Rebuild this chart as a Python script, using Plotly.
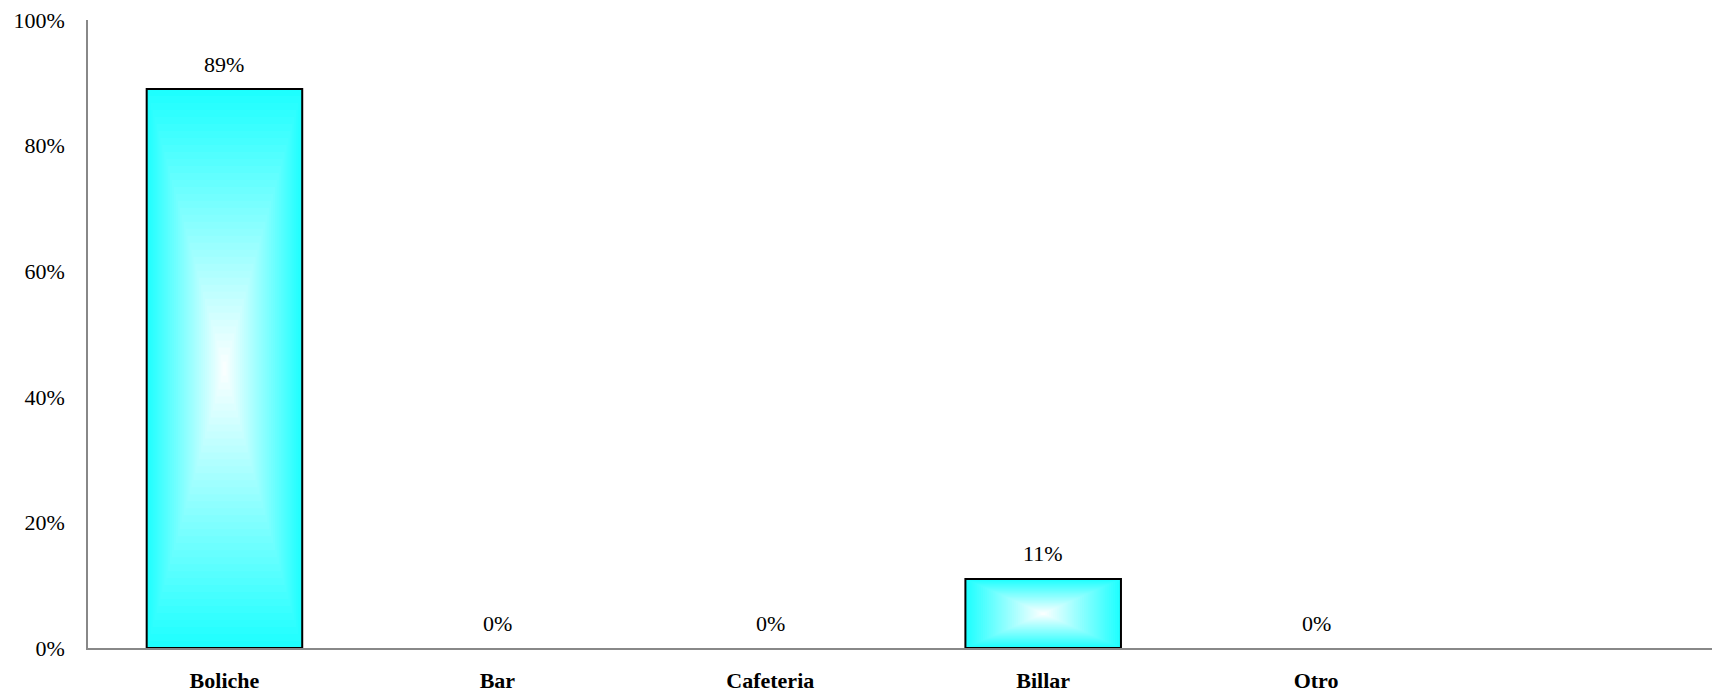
import plotly.graph_objects as go

categories = ["Boliche", "Bar", "Cafeteria", "Billar", "Otro"]
values = [0.89, 0.0, 0.0, 0.11, 0.0]
labels = ["89%", "0%", "0%", "11%", "0%"]

BAR_W = 0.57
N = 40
fig = go.Figure()

edge = (30, 255, 255)
center = (255, 255, 255)
for k in range(N):
    t = k / N
    c = tuple(int(round(edge[i] * (1 - t) + center[i] * t)) for i in range(3))
    fig.add_trace(go.Bar(
        x=categories,
        y=[v * (1 - t) for v in values],
        base=[v * t / 2 for v in values],
        width=BAR_W * (1 - t),
        marker=dict(color=f"rgb{c}", line=dict(width=0)),
        hoverinfo="skip",
        showlegend=False,
    ))

fig.add_trace(go.Bar(
    x=categories,
    y=values,
    width=BAR_W,
    marker=dict(color="rgba(0,0,0,0)",
                line=dict(color="black", width=[2 if v > 0 else 0 for v in values])),
    showlegend=False,
))

for cat, v, lab in zip(categories, values, labels):
    fig.add_annotation(
        x=cat, y=v, text=lab, showarrow=False,
        yanchor="middle", yshift=25,
        font=dict(family="Liberation Serif", size=22, color="black"),
    )

# page body has an 8px default margin; compensate so the plot area sits where the reference has it
fig.update_layout(
    barmode="overlay",
    width=1712, height=687,
    margin=dict(l=80, r=0, t=12, b=47),
    plot_bgcolor="white", paper_bgcolor="white",
    font=dict(family="Liberation Serif", size=22, color="black"),
)
fig.update_xaxes(
    type="category",
    range=[-0.5, 5.48],
    automargin=False,
    showgrid=False,
    showline=True, linecolor="#888888", linewidth=2,
    ticks="",
    tickfont=dict(family="Liberation Serif", size=22, color="black", weight="bold"),
    ticklabelstandoff=12,
    ticklabeloverflow="allow",
)
fig.update_yaxes(
    range=[0, 1],
    automargin=False,
    tickvals=[0, 0.2, 0.4, 0.6, 0.8, 1.0],
    tickformat=".0%",
    showgrid=False, zeroline=False,
    showline=True, linecolor="#888888", linewidth=1.5,
    ticks="",
    tickfont=dict(family="Liberation Serif", size=22, color="black"),
    ticklabelstandoff=17,
    ticklabeloverflow="allow",
)

fig.write_html("out.html")
